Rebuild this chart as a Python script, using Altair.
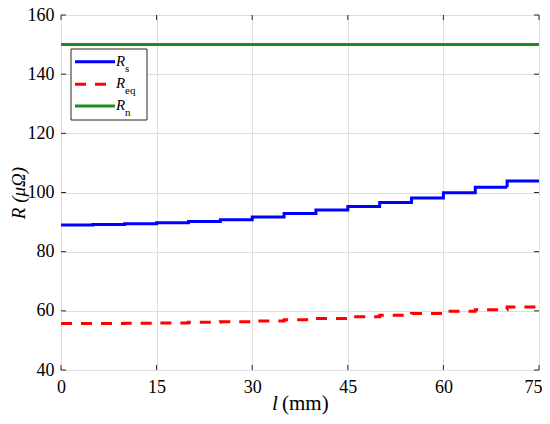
import altair as alt
import pandas as pd

# ---- data ----
l_steps = [0, 5, 10, 15, 20, 25, 30, 35, 40, 45, 50, 55, 60, 65, 70, 75]
Rs = [89.0, 89.2, 89.4, 89.8, 90.2, 90.8, 91.7, 92.9, 94.1, 95.3, 96.6, 98.1, 99.9, 101.8, 103.9]
Req = [55.7, 55.7, 55.8, 55.9, 56.1, 56.3, 56.6, 57.0, 57.4, 58.0, 58.5, 59.1, 59.9, 60.4, 61.3]
Rn = [150, 150, 150, 150, 150, 150, 150, 150, 150, 150, 150, 150, 150, 150, 150]
series_names = ["Rs", "Req", "Rn"]
legend_subs = ["s", "eq", "n"]
x_ticks = [0, 15, 30, 45, 60, 75]
y_ticks = [40, 60, 80, 100, 120, 140, 160]

colors = ["#0000FF", "#FF0000", "#1E8C1E"]
dashes = [[1, 0], [11, 9], [1, 0]]

rows = []
for name, vals in zip(series_names, [Rs, Req, Rn]):
    ext = vals + [vals[-1]]
    for l, r in zip(l_steps, ext):
        rows.append({"l": l, "R": r, "series": name})
df = pd.DataFrame(rows)

W, H = 478, 355
FONT = "Liberation Serif, serif"

xs = alt.Scale(domain=[0, 75], nice=False, zero=False)
ys = alt.Scale(domain=[40, 160], nice=False, zero=False)

lines = alt.Chart(df).mark_line(interpolate="step-after", strokeWidth=3, clip=True).encode(
    x=alt.X("l:Q", scale=xs,
            axis=alt.Axis(values=x_ticks, title=None, ticks=False, domain=False, grid=True,
                          gridColor="#dedede", labelFont=FONT, labelFontSize=18,
                          labelColor="black", labelPadding=8, labelFlush=False,
                          labelAlign={"condition": {"test": "datum.value == 75", "value": "right"}, "value": "center"},
                          labelOffset={"condition": {"test": "datum.value == 75", "value": 3}, "value": 0})),
    y=alt.Y("R:Q", scale=ys,
            axis=alt.Axis(values=y_ticks, title=None, ticks=False, domain=False, grid=True,
                          gridColor="#dedede", labelFont=FONT, labelFontSize=18,
                          labelColor="black", labelPadding=7)),
    color=alt.Color("series:N", scale=alt.Scale(domain=series_names, range=colors), legend=None),
    strokeDash=alt.StrokeDash("series:N", scale=alt.Scale(domain=series_names, range=dashes), legend=None),
    order=alt.Order("l:Q"),
)

xt = pd.DataFrame({"v": x_ticks})
yt = pd.DataFrame({"v": y_ticks})
tick_color = "#262626"
tb = alt.Chart(xt).mark_rule(color=tick_color).encode(x=alt.X("v:Q", scale=xs), y=alt.value(H), y2=alt.value(H - 5))
tt = alt.Chart(xt).mark_rule(color=tick_color).encode(x=alt.X("v:Q", scale=xs), y=alt.value(0), y2=alt.value(5))
tl = alt.Chart(yt).mark_rule(color=tick_color).encode(y=alt.Y("v:Q", scale=ys), x=alt.value(0), x2=alt.value(5))
tr = alt.Chart(yt).mark_rule(color=tick_color).encode(y=alt.Y("v:Q", scale=ys), x=alt.value(W), x2=alt.value(W - 5))

one = pd.DataFrame({"a": [0]})

# legend box
box = alt.Chart(one).mark_rect(fill="white", stroke="#262626", strokeWidth=1).encode(
    x=alt.value(10), x2=alt.value(86), y=alt.value(34), y2=alt.value(105))

legend_layers = [box]
ly = [46.7, 69.3, 91]
for i, (name, sub) in enumerate(zip(series_names, legend_subs)):
    legend_layers.append(
        alt.Chart(one).mark_rule(color=colors[i], strokeWidth=3, strokeDash=dashes[i]).encode(
            x=alt.value(14), x2=alt.value(54), y=alt.value(ly[i]))
    )
    legend_layers.append(
        alt.Chart(one).mark_text(text="R", font=FONT, fontSize=15, fontStyle="italic",
                                 align="left", baseline="middle", color="black").encode(
            x=alt.value(55), y=alt.value(ly[i] - 1))
    )
    legend_layers.append(
        alt.Chart(one).mark_text(text=sub, font=FONT, fontSize=11,
                                 align="left", baseline="middle", color="black").encode(
            x=alt.value(64), y=alt.value(ly[i] + 7))
    )

ytitle = alt.Chart(one).mark_text(text="R (μΩ)", font=FONT, fontSize=19, fontStyle="italic",
                                  angle=270, align="center", baseline="middle", color="black").encode(
    x=alt.value(-42), y=alt.value(178))
xtitle1 = alt.Chart(one).mark_text(text="l", font=FONT, fontSize=21, fontStyle="italic",
                                   align="left", baseline="alphabetic", color="black").encode(
    x=alt.value(211), y=alt.value(395))
xtitle2 = alt.Chart(one).mark_text(text="(mm)", font=FONT, fontSize=21,
                                   align="left", baseline="alphabetic", color="black").encode(
    x=alt.value(221), y=alt.value(395))

chart = alt.layer(lines, tb, tt, tl, tr, *legend_layers, ytitle, xtitle1, xtitle2).properties(
    width=W, height=H,
    autosize=alt.AutoSizeParams(type="none"),
    padding={"left": 53, "top": 7, "right": 3, "bottom": 46},
).configure_view(stroke="#262626", strokeWidth=1).configure(background="white")

chart.save("out.html", embed_options={"renderer": "svg", "actions": False})
